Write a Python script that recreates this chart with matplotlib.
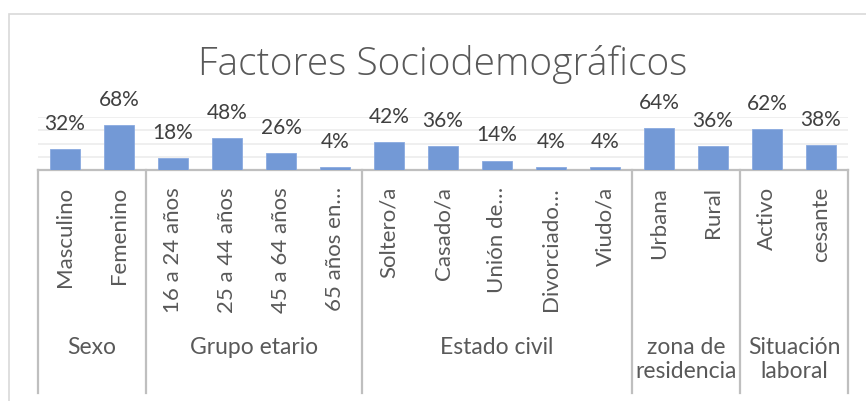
#!/usr/bin/env python3
"""Factores sociodemográficos: multi-level category bar chart."""
import matplotlib
matplotlib.use("Agg")
import matplotlib.pyplot as plt
from matplotlib.transforms import blended_transform_factory
from matplotlib.lines import Line2D
from matplotlib.patches import Rectangle

categories = ["Masculino", "Femenino",
              "16 a 24 años", "25 a 44 años", "45 a 64 años", "65 años en…",
              "Soltero/a", "Casado/a", "Unión de…", "Divorciado…", "Viudo/a",
              "Urbana", "Rural",
              "Activo", "cesante"]
values = [32, 68, 18, 48, 26, 4, 42, 36, 14, 4, 4, 64, 36, 62, 38]
group_names = ["Sexo", "Grupo etario", "Estado civil", "zona de\nresidencia", "Situación\nlaboral"]
group_sizes = [2, 4, 5, 2, 2]

plt.rcParams["font.family"] = ["Lato", "DejaVu Sans"]
W, H = 866, 401
fig = plt.figure(figsize=(W / 100, H / 100), dpi=100)

# outer chart border
fig.patches.append(Rectangle((9 / W, -0.1), 1.2, 1 - 13.5 / H + 0.1, transform=fig.transFigure,
                             fill=False, edgecolor="#d9d9d9", linewidth=1.2))

x0, x1, yb, yt = 38, 848, 170, 117.3
ax = fig.add_axes([x0 / W, 1 - yb / H, (x1 - x0) / W, (yb - yt) / H])

n = len(categories)
xs = list(range(n))
ax.bar(xs, [v / 100 for v in values], width=0.54, color="#7399d6", edgecolor="#8aaae0",
       linewidth=0.6, zorder=3)
for x, v in zip(xs, values):
    ax.annotate(f"{v}%", (x, v / 100), xytext=(0, 11), textcoords="offset points",
                ha="center", va="bottom", fontsize=15, color="#404040", annotation_clip=False)

ax.set_xlim(-0.5, n - 0.5)
ax.set_ylim(0, 0.8)
ax.set_yticks([0.2, 0.4, 0.6, 0.8])
ax.yaxis.grid(True, color="#ececec", linewidth=1.2, zorder=0)
ax.tick_params(left=False, labelleft=False, bottom=False, labelbottom=False)
for s in ["left", "right", "top"]:
    ax.spines[s].set_visible(False)
ax.spines["bottom"].set_color("#bfbfbf")
ax.spines["bottom"].set_linewidth(1.6)

tr = blended_transform_factory(ax.transData, fig.transFigure)

# category labels (rotated)
for x, c in zip(xs, categories):
    fig.text(x, 1 - 187 / H, c, transform=tr, rotation=90, ha="center", va="top",
             fontsize=16, color="#595959")

# group separators and group labels
start = -0.5
edges = [start]
for g, size in zip(group_names, group_sizes):
    end = start + size
    fig.text((start + end) / 2, 1 - 337 / H, g, transform=tr, ha="center", va="top",
             fontsize=16.5, color="#595959", linespacing=1.2)
    edges.append(end)
    start = end
for e in edges:
    fig.add_artist(Line2D([e, e], [1 - yb / H, 1 - 393 / H], transform=tr,
                          color="#bfbfbf", linewidth=1.6))

fig.text((x0 + x1) / 2 / W, 1 - 75 / H, "Factores Sociodemográficos", ha="center", va="baseline",
         fontsize=28, fontweight=300, family=["Open Sans", "DejaVu Sans"], color="#595959")

fig.savefig("out.png", dpi=100)
